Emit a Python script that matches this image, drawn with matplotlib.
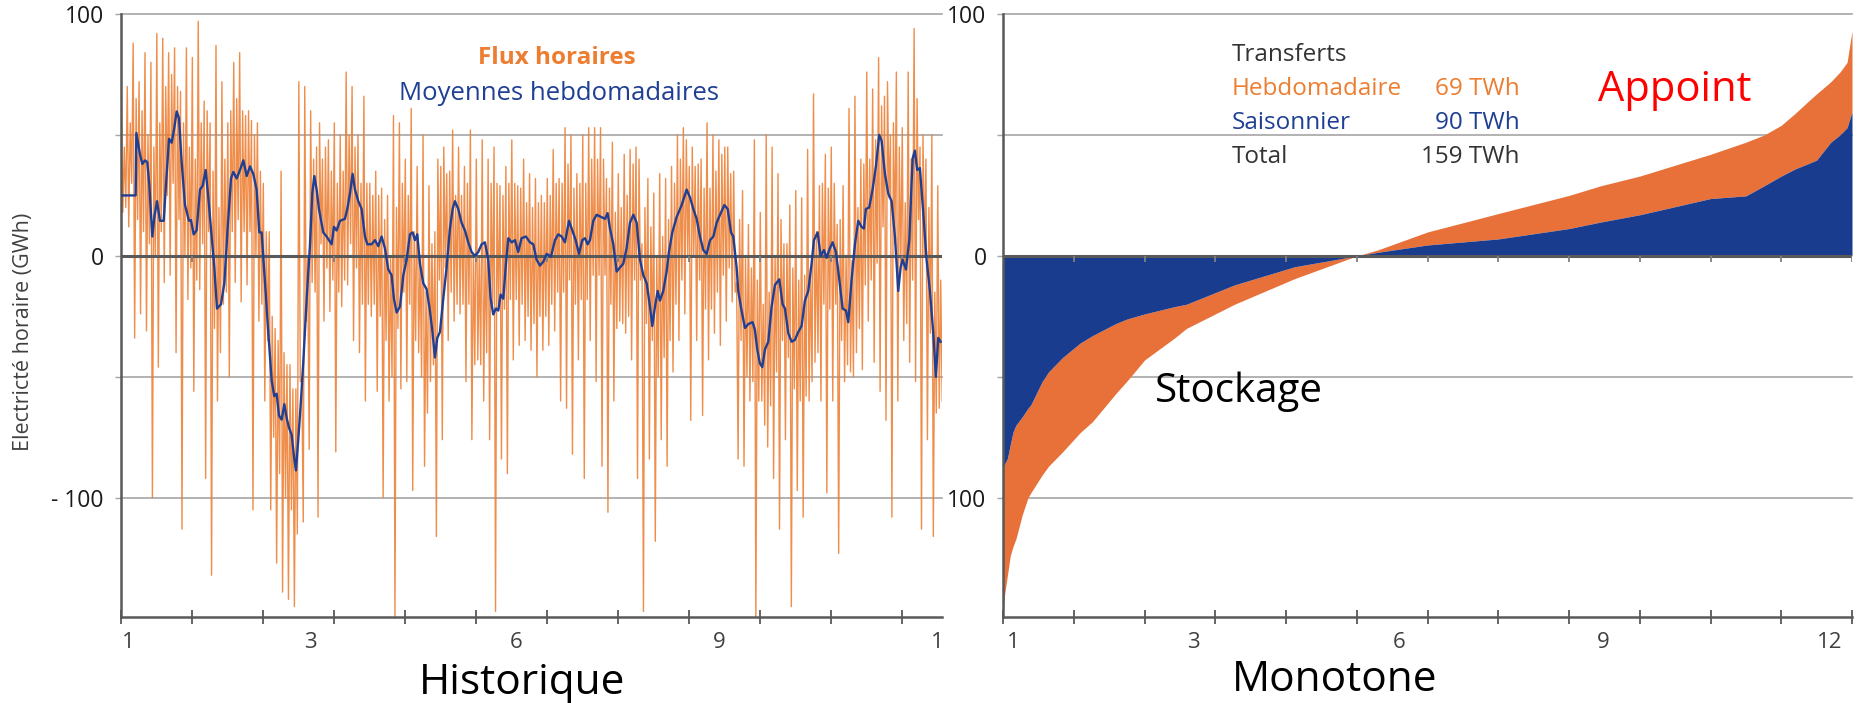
import numpy as np
import matplotlib
matplotlib.use("Agg")
import matplotlib.pyplot as plt

plt.rcParams["font.family"] = ["Open Sans", "DejaVu Sans"]

ORANGE = "#ED7D31"
BLUE = "#1F3F94"
FILL_BLUE = "#1A3C8E"
FILL_ORANGE = "#E8713A"
GRID = "#A6A6A6"
AXE = "#595959"

W, H = 1858, 703

# flux horaires : pointes hautes et basses, 12 créneaux par mois (GWh)
flux_hauts = [
    62, 70, 88, 72, 84, 80, 92, 90, 84, 86, 68, 86,
    82, 97, 64, 55, 87, 72, 55, 80, 84, 58, 56, 55,
    30, 10, -30, 35, -45, -55, 72, 70, 60, 45, 40, 48,
    55, 50, 76, 70, 50, 66, 30, 35, 28, 25, 58, 55,
    40, 61, 37, 50, 29, 10, 37, 34, 52, 45, 37, 52,
    40, 48, 40, 45, 29, 37, 48, 29, 40, 34, 32, 25,
    32, 44, 32, 53, 50, 34, 50, 53, 53, 53, 32, 47,
    34, 42, 44, 45, 5, 32, 26, 34, 32, 37, 50, 53,
    37, 37, 40, 55, 50, 48, 45, 34, -11, 27, 13, 48,
    18, 50, 45, 34, 5, 21, 27, 24, 44, 67, 29, 42,
    45, 13, 29, 61, 66, 40, 76, 69, 82, 66, 50, 76,
    53, 76, 94, 45, 40, 50, 29,
]
flux_bas = [
    18, 12, -34, -24, -31, -100, -46, -11, -8, -40, -113, -18,
    -56, -14, -92, -132, -60, -20, -50, -11, -19, -12, -105, -27,
    -60, -105, -127, -139, -142, -145, -52, -27, -11, -108, -27, -23,
    -81, -21, -12, -35, -40, -60, -25, -56, -100, -60, -150, -55,
    -52, -97, -40, -87, -52, -116, -76, -35, -27, -24, -52, -76,
    -43, -60, -76, -147, -84, -90, -43, -37, -35, -39, -50, -39,
    -37, -31, -60, -63, -82, -43, -92, -35, -52, -87, -106, -60,
    -27, -32, -43, -92, -147, -84, -118, -76, -87, -48, -35, -24,
    -68, -35, -66, -43, -32, -37, -27, -19, -84, -87, -60, -150,
    -60, -79, -92, -113, -76, -145, -97, -108, -60, -44, -60, -98,
    -60, -123, -52, -48, -40, -47, -27, -44, -56, -68, -108, -60,
    -35, -44, -52, -113, -76, -116, -63,
]
# flux horaires : oscillations courantes, mêmes créneaux
flux_hauts_cour = [
    45, 55, 65, 60, 50, 45, 55, 70, 75, 70, 55, 45,
    40, 55, 60, 35, 20, 40, 60, 65, 60, 60, 50, 35,
    10, -25, -35, -40, -45, -55, -50, 0, 40, 55, 45, 35,
    30, 35, 50, 45, 30, 30, 25, 25, 15, 0, 20, 30,
    25, 10, 0, -15, 5, 40, 45, 35, 25, 25, 30, 0,
    0, 5, 30, 30, 25, 30, 30, 28, 22, 20, 22, 22,
    25, 30, 30, 38, 28, 30, 30, 40, 40, 40, 28, 18,
    20, 25, 38, 40, 20, 12, 0, 8, 15, 30, 40, 48,
    45, 38, 28, 28, 35, 42, 45, 35, 15, 0, -5, -10,
    -20, -15, 0, 15, 5, -5, -10, -8, -5, 10, 30, 28,
    30, 15, 0, -2, 20, 38, 40, 48, 62, 72, 55, 45,
    22, 40, 65, 50, 20, -15, -10,
]
flux_bas_cour = [
    20, 30, 15, 10, 5, 0, 10, 25, 30, 15, 0, -5,
    -10, 5, 10, -30, -40, -15, 10, 15, 10, 10, 0, -20,
    -35, -75, -90, -100, -105, -115, -110, -80, -15, 5, -5, -10,
    -15, -10, 5, -5, -20, -20, -20, -25, -35, -50, -30, -15,
    -20, -35, -50, -65, -45, -10, -5, -15, -20, -20, -20, -45,
    -45, -40, -20, -20, -22, -18, -18, -20, -25, -28, -25, -25,
    -20, -15, -15, -10, -20, -18, -18, -8, -8, -8, -20, -30,
    -28, -25, -10, -10, -28, -35, -50, -42, -35, -20, -10, 0,
    0, -10, -22, -22, -15, -8, -5, -15, -35, -50, -52, -60,
    -70, -62, -48, -35, -42, -55, -60, -58, -52, -40, -20, -22,
    -20, -35, -45, -50, -30, -12, -10, -3, 12, 24, 5, -5,
    -28, -10, 15, 0, -32, -65, -60,
]

# moyennes hebdomadaires glissantes (mois, GWh)
moy_mois = [
    0.0, 0.212, 0.222, 0.273, 0.306, 0.344, 0.376, 0.405, 0.447, 0.475,
    0.513, 0.555, 0.607, 0.649, 0.682, 0.719, 0.757, 0.790, 0.822, 0.860,
    0.907, 0.930, 0.963, 0.991, 1.029, 1.071, 1.118, 1.156, 1.198, 1.236,
    1.283, 1.320, 1.358, 1.414, 1.461, 1.508, 1.555, 1.588, 1.635, 1.682,
    1.729, 1.776, 1.823, 1.869, 1.916, 1.954, 1.987, 2.034, 2.081, 2.128,
    2.165, 2.198, 2.231, 2.269, 2.306, 2.339, 2.372, 2.409, 2.447, 2.470,
    2.503, 2.541, 2.574, 2.621, 2.668, 2.700, 2.729, 2.761, 2.794,
    2.855, 2.902, 2.972, 3.005, 3.043, 3.090, 3.160, 3.193, 3.231, 3.268,
    3.301, 3.348, 3.395, 3.442, 3.475, 3.536, 3.583, 3.630, 3.677, 3.723,
    3.770, 3.817, 3.850, 3.888, 3.935, 3.982, 4.029, 4.076, 4.113, 4.146,
    4.179, 4.216, 4.263, 4.310, 4.357, 4.395, 4.428, 4.461, 4.498, 4.545,
    4.592, 4.639, 4.677, 4.709, 4.756, 4.803, 4.850, 4.897, 4.944, 4.991,
    5.038, 5.085, 5.132, 5.179, 5.212, 5.249, 5.287, 5.320, 5.353, 5.390,
    5.428, 5.461, 5.508, 5.555, 5.601, 5.648, 5.709, 5.766,
    5.813, 5.860, 5.907, 5.954, 6.001, 6.062, 6.118, 6.165, 6.212, 6.259,
    6.316, 6.353, 6.410, 6.457, 6.503, 6.541, 6.579, 6.611, 6.658, 6.705,
    6.776, 6.823, 6.860, 6.893, 6.940, 6.987, 7.034, 7.081, 7.128, 7.175,
    7.222, 7.269, 7.316, 7.363, 7.410, 7.457, 7.489, 7.527, 7.565, 7.597,
    7.644, 7.691, 7.724, 7.771, 7.832, 7.903, 7.973, 8.020, 8.067, 8.114,
    8.161, 8.208, 8.255, 8.302, 8.349, 8.396, 8.443, 8.504, 8.551, 8.598,
    8.630, 8.677, 8.700, 8.747, 8.794, 8.841, 8.902, 8.935, 8.968, 9.005,
    9.038, 9.076, 9.123, 9.170, 9.217, 9.278, 9.325, 9.358, 9.405, 9.452,
    9.498, 9.545, 9.592, 9.639, 9.686, 9.733, 9.766, 9.818, 9.860, 9.907,
    9.944, 9.991, 10.029, 10.076, 10.123, 10.170, 10.217, 10.250, 10.297, 10.344,
    10.390, 10.437, 10.470, 10.498, 10.545, 10.592, 10.639, 10.686, 10.719, 10.766,
    10.813, 10.860, 10.907, 10.954, 10.987, 11.015, 11.062, 11.109, 11.156, 11.188,
    11.221, 11.259, 11.306, 11.353, 11.400, 11.447, 11.484, 11.517, 11.550,
]
moy_val = [
    25, 25, 50.8, 42, 38, 39.5, 38.7, 29, 8, 16,
    22.6, 14.5, 14.5, 33.9, 48.4, 46.8, 53, 59.7, 57, 38.7,
    21, 18.5, 14.5, 14.8, 8.9, 10.5, 27.4, 29, 35.5, 24,
    8, -4.8, -21.8, -20, -11.3, 11.3, 32, 34.7, 32, 35.5,
    39.5, 33, 37, 33.9, 27.4, 9.7, 9.7, -11.3, -32, -51.6,
    -58, -57, -66, -67.7, -61.3, -67, -71, -74, -84, -88.7,
    -75.8, -59.7, -43.5, -17.7, 4.8, 25.8, 33, 27.4, 19.4,
    9.7, 8, 4.8, 12, 10.5, 14.5, 15.3, 19.4, 25.8, 33.9,
    27.4, 22.6, 19.4, 8, 4.8, 4.8, 6.5, 4, 8, 3.2,
    -5.6, -8, -17.7, -23.4, -21, -8, -1.6, 8.9, 9.7, 6.5,
    8.9, -3.2, -11.3, -13.7, -22.6, -32, -42, -33.9, -31.5, -17.7,
    -4.8, 11.3, 19.4, 22.6, 19.4, 13.7, 10.5, 5.6, 1.6, 0,
    1.6, 4.8, 5.6, -1.6, -17.7, -24.2, -21.8, -22.6, -16, -17.7,
    -3.2, 7.3, 5.6, 6.5, 1.6, 7.3, 8, 5.6,
    4.8, -1.6, -4, -2.4, 0.8, -0.3, 6.5, 8.9, 8, 5.6,
    14.5, 11.3, 6.5, 0.8, 6.5, 7.3, 4.8, 6.5, 14.5, 17,
    16, 15.3, 17.7, 11.3, 4.8, -6.5, -4.8, -3.2, 3.2, 13.7,
    17, 13.7, -1.6, -8, -11.3, -21, -29, -21, -14.5, -18.5,
    -14.5, -6.5, 1.6, 9.7, 16, 21, 27.4, 24.2, 19.4, 15.3,
    8, 2.4, 0.8, 6.5, 8, 13.7, 17, 21, 19.4, 9.7,
    8, -4.8, -14.5, -22.6, -29.8, -28.2, -27.4, -30.6, -38.7, -44.4,
    -46, -38.7, -35.5, -21, -12, -9.7, -20, -21.8, -32, -35.5,
    -34.7, -31.5, -29, -18.5, -14.5, -3.2, 6.5, 9.7, 0, 2.4,
    -0.8, 3.2, 5.6, 1.6, -9.7, -21.8, -22.6, -27.4, -9.7, 4.8,
    14.5, 12, 11.3, 19.4, 20, 27.4, 37, 50, 47.6, 33.9,
    25.8, 22.6, 8, -14.5, -4.8, -1.6, -5.6, 6.5, 40.3, 43.5,
    35.5, 36.3, 17.7, -1.6, -14.5, -32, -50, -33.9, -35.5,
]

# monotones classées (mois, GWh)
mono_mois = [0.0, 0.02, 0.06, 0.10, 0.14, 0.18, 0.27, 0.35, 0.39, 0.55,
             0.64, 0.84, 1.09, 1.26, 1.59, 1.76, 2.0, 2.42, 2.59, 3.27,
             4.12, 5.0, 5.3, 6.0, 7.0, 8.0, 8.45, 9.0, 10.0, 10.5,
             10.76, 11.0, 11.2, 11.37, 11.5, 11.7, 11.83, 11.93, 12.0]
mono_horaire = [-148, -140, -132, -124, -120, -117, -107, -100, -98, -90.6,
                -87, -81, -73, -68.6, -57, -51.4, -43, -34, -30, -20,
                -9.4, 0, 2.5, 9.9, 17.5, 25, 29, 33, 42, 47,
                50, 54, 59, 63.6, 67, 72, 76, 80, 93]
mono_hebdo = [-88, -86, -83.7, -78, -72.7, -70, -66.5, -63, -61.6, -52,
              -48, -42, -36, -33, -28, -26, -24, -21, -20, -12,
              -4.5, 0, 1.5, 4.5, 7, 11.3, 14, 17, 23.7, 24.8,
              29, 33, 36, 38, 39.6, 47, 50, 53, 59.5]

# étiquettes de l'axe des mois
hist_lab_pos = [0.11, 2.67, 5.57, 8.43, 11.51]
hist_lab = ["1", "3", "6", "9", "1"]
mono_lab_pos = [0.14, 2.69, 5.6, 8.48, 11.69]
mono_lab = ["1", "3", "6", "9", "12"]


def px(x, y):
    return x / W, 1 - y / H


def habiller(ax, xmax, ylabels):
    ax.set_xlim(0, xmax)
    ax.set_ylim(-149.3, 100)
    for v in [100, 50, -50, -100]:
        ax.axhline(v, color=GRID, lw=1.2, zorder=0, clip_on=False)
    ax.axhline(0, color=AXE, lw=2.2, zorder=3)
    ax.vlines(range(1, int(xmax) + 1), -2.4, 0, colors="#7F7F7F", lw=1.3, zorder=3)
    for s in ["top", "right"]:
        ax.spines[s].set_visible(False)
    for s in ["left", "bottom"]:
        ax.spines[s].set_color(AXE)
        ax.spines[s].set_linewidth(1.8)
    ax.set_yticks([100, 50, 0, -50, -100])
    ax.set_yticklabels(ylabels)
    ax.tick_params(axis="y", direction="out", length=4, width=1, color=GRID,
                   labelsize=16.5, labelcolor="#1a1a1a", pad=8)
    ax.set_xticks(range(0, int(xmax) + 1))
    ax.set_xticklabels([])
    ax.tick_params(axis="x", which="major", direction="inout", length=10,
                   width=1.3, color=AXE)
    ax.tick_params(axis="x", which="minor", length=0, labelsize=16,
                   labelcolor="#404040", pad=11)


fig = plt.figure(figsize=(W / 100, H / 100), dpi=100)

# --- Historique ---
x0, y0 = px(120.6, 617)
ax1 = fig.add_axes([x0, y0, (942 - 120.6) / W, (617 - 14) / H])
n = len(flux_hauts)
xs = np.empty(4 * n)
ys = np.empty(4 * n)
for k, serie in enumerate([flux_hauts, flux_bas, flux_hauts_cour, flux_bas_cour]):
    xs[k::4] = (np.arange(n) + (k + 0.5) / 4) / 12
    ys[k::4] = serie
ax1.plot(xs, ys, color=ORANGE, lw=1.0, alpha=0.88, zorder=2)
ax1.plot(moy_mois, moy_val, color=BLUE, lw=1.7, zorder=4)
habiller(ax1, 11.57, ["100", "", "0", "", "- 100"])
ax1.set_xticks(hist_lab_pos, minor=True)
ax1.set_xticklabels(hist_lab, minor=True)

# --- Monotone ---
x0, y0 = px(1003.2, 617)
ax2 = fig.add_axes([x0, y0, (1852 - 1003.2) / W, (617 - 14) / H])
ax2.fill_between(mono_mois, mono_hebdo, mono_horaire, color=FILL_ORANGE, lw=0, zorder=1)
ax2.fill_between(mono_mois, 0, mono_hebdo, color=FILL_BLUE, lw=0, zorder=1.5)
habiller(ax2, 12, ["100", "", "0", "", "100"])
ax2.set_xticks(mono_lab_pos, minor=True)
ax2.set_xticklabels(mono_lab, minor=True)

# --- textes ---
fig.text(*px(24, 332), "Electricté horaire (GWh)", rotation=90, ha="center",
         va="center", fontsize=15.5, color="#404040")
fig.text(*px(478, 58), "Flux horaires", ha="left", va="center", fontsize=17.5,
         fontweight="bold", color=ORANGE)
fig.text(*px(399, 94), "Moyennes hebdomadaires", ha="left", va="center",
         fontsize=18.5, color=BLUE)
fig.text(*px(522, 683), "Historique", ha="center", va="center", fontsize=30.5,
         color="black")
fig.text(*px(1335, 680), "Monotone", ha="center", va="center", fontsize=30.5,
         color="black")

fig.text(*px(1232, 55), "Transferts", ha="left", va="center", fontsize=17.5,
         color="#333333")
fig.text(*px(1232, 89), "Hebdomadaire", ha="left", va="center", fontsize=17.5,
         color=ORANGE)
fig.text(*px(1520, 89), "69 TWh", ha="right", va="center", fontsize=17.5,
         color=ORANGE)
fig.text(*px(1232, 123), "Saisonnier", ha="left", va="center", fontsize=17.5,
         color=BLUE)
fig.text(*px(1520, 123), "90 TWh", ha="right", va="center", fontsize=17.5,
         color=BLUE)
fig.text(*px(1232, 157), "Total", ha="left", va="center", fontsize=17.5,
         color="#333333")
fig.text(*px(1520, 157), "159 TWh", ha="right", va="center", fontsize=17.5,
         color="#333333")
fig.text(*px(1598, 90), "Appoint", ha="left", va="center", fontsize=30,
         color="#FF0000")
fig.text(*px(1155, 392), "Stockage", ha="left", va="center", fontsize=29,
         color="black")

fig.savefig("out.png", dpi=100)
